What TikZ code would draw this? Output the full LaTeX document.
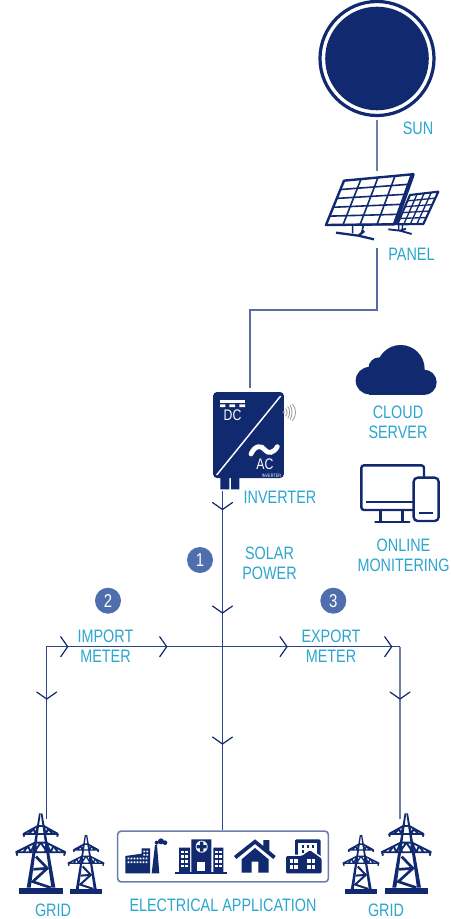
\documentclass[tikz,border=0pt]{standalone}
\usepackage{fontspec}
\setmainfont[FakeStretch=0.8]{Liberation Sans}
\usetikzlibrary{calc}
\definecolor{navy}{HTML}{10296F}
\definecolor{wirecol}{HTML}{2B4587}
\definecolor{softwire}{HTML}{6D7FA9}
\definecolor{badgecol}{HTML}{4E6EAD}
\definecolor{labelcol}{HTML}{2BA6CE}
\tikzset{
  wire/.style={line width=1pt,color=wirecol},
  softline/.style={line width=1.4pt,color=softwire},
  lab/.style={inner sep=0pt,text=labelcol,align=center,font=\fontsize{13.5}{15}\selectfont},
  badge/.style={circle,fill=badgecol,minimum size=19.5pt,inner sep=0pt,text=white,font=\fontsize{14}{15}\selectfont},
  zoomed/.style={scale=1/3},
  pics/chevd/.style={code={\draw[line width=.9pt,navy,line cap=round,line join=miter] (-10,-7)--(0,0)--(10,-7);}},
  pics/chevr/.style={code={\draw[line width=.9pt,navy,line cap=round,line join=miter] (-7,-10)--(0,0)--(-7,10);}},
  pics/tower/.style={code={
    \fill[navy] (-65,223) rectangle (66,243);
    \fill[navy] (-5,0)--(0,0)--(-30,223)--(-42,223)--cycle;
    \fill[navy] (0,0)--(5,0)--(44,223)--(32,223)--cycle;
    \draw[navy,line width=#1*.7,line join=round]
      (-52,62)--(52,62) (-52,62)--(-9,38)--(9,38)--(52,62)
      (-75,117)--(75,117) (-75,117)--(-17,88)--(17,88)--(75,117)
      (-36,62)--(-22,47)--(-15,62)--(-9,38) (36,62)--(22,47)--(15,62)--(9,38)
      (-52,117)--(-38,98)--(-30,117)--(-17,88)--(-13,117)
      (52,117)--(38,98)--(30,117)--(17,88)--(13,117)
      (-52,62)--(-49,70) (52,62)--(49,70) (-73,117)--(-70,127) (73,117)--(70,127)
      (-20,117)--(0,88)--(20,117);
    \draw[navy,line width=#1] (-14,130)--(20,165)--(-24,205)--(30,223) (-22,168)--(20,165);
  }}
}
\newcommand{\panelgrid}[8]{%
  % corners TL TR BR BL, columns, rows, frame width, grid width
  \fill[white] #1--#2--#3--#4--cycle;
  \foreach \c in {1,...,#5}{\pgfmathsetmacro{\tt}{\c/#5}
    \draw[navy,line width=#8] ($#1!\tt!#2$)--($#4!\tt!#3$);}
  \foreach \r in {1,...,#6}{\pgfmathsetmacro{\ss}{\r/#6}
    \draw[navy,line width=#8] ($#1!\ss!#4$)--($#2!\ss!#3$);}
  \draw[navy,line width=#7,line join=round] #1--#2--#3--#4--cycle;
}
\begin{document}
\begin{tikzpicture}[x=.75pt,y=-.75pt]
\path[use as bounding box,fill=white] (0,0) rectangle (450,919);

% SUN
\node[circle,draw=navy,line width=2.4pt,minimum size=85.5pt,inner sep=0pt] (sun) at (377,58.5) {};
\fill[navy] (sun.center) circle (51.8);
\node[lab] (sunlab) at (418,128) {SUN};

% PANEL
\begin{scope}[shift={(320,170)},zoomed]
  \panelgrid{(270,75)}{(355,65)}{(310,162)}{(232,163)}{4}{5}{1.6pt}{1pt}
  \draw[navy,line width=1pt] (236,165)--(236,180) (248,165)--(246,180);
  \draw[navy,line width=1.4pt] (205,178)--(240,182)--(275,192) (240,182)--(258,176);
  \panelgrid{(72,32)}{(276,13)}{(222,163)}{(18,165)}{4}{5}{1.8pt}{1.2pt}
  \draw[navy,line width=3pt,line cap=round] (278,14)--(226,160);
  \draw[navy,line width=1.2pt] (98,165)--(98,190) (130,165)--(125,190);
  \draw[navy,line width=1.7pt] (48,188)--(115,197)--(162,208) (115,197)--(133,183);
\end{scope}
\node[lab] (panellab) at (411.5,254) {PANEL};
\coordinate (panelin) at (377,171);
\coordinate (panelout) at (377,248);

% INVERTER
\node[fill=navy,rounded corners=3pt,minimum width=53.2pt,minimum height=64.5pt,inner sep=0pt] (inv) at (248.5,435) {};
\begin{scope}[shift={(190,370)},zoomed]
  \fill[navy] (91,320) rectangle (118,358) (123,320) rectangle (148,358);
  \draw[white,line width=1.1pt] (272,78)--(80,315);
  \fill[white] (90,91) rectangle (165,100);
  \fill[white] (90,103) rectangle (106,111) (118,103) rectangle (135,111) (148,103) rectangle (165,111);
  \draw[white,line width=3.6pt,line cap=round] (183,252) .. controls (195,225) and (215,225) .. (225,240) .. controls (235,252) and (250,250) .. (262,230);
  \fill[black!45] (281,127) circle (4);
  \draw[black!40,line width=.6pt] (287,115) .. controls (293,122) and (293,132) .. (287,139)
     (293,109) .. controls (301,119) and (301,135) .. (293,145)
     (300,105) .. controls (308,117) and (308,137) .. (300,149)
     (307,102) .. controls (320,115) and (320,139) .. (307,152);
\end{scope}
\node[inner sep=0pt,text=white,font=\fontsize{11.5}{12}\selectfont] (dc) at (232.5,415.5) {DC};
\node[inner sep=0pt,text=white,font=\fontsize{11.5}{12}\selectfont] (ac) at (265,464) {AC};
\node[inner sep=0pt,text=white,font=\fontsize{3.6}{4}\selectfont] (invtiny) at (271.5,475.5) {INVERTER};
\node[lab] (invlab) at (280,497) {INVERTER};
\coordinate (invout) at (222.5,491);
\coordinate (invin) at (250,388);

% CLOUD
\begin{scope}[shift={(340,330)},zoomed]
  \fill[navy] (88,152) circle (41) (118,115) circle (33) (182,117) circle (72) (252,157) circle (38);
  \fill[navy] (88,150) rectangle (252,195);
\end{scope}
\node[lab] (cloudlab) at (398,422.5) {CLOUD\\SERVER};

% MONITOR
\begin{scope}[shift={(340,330)},zoomed,navy,line width=1.8pt]
  \draw[rounded corners=2pt] (220,540)--(64,540)--(64,406)--(252,406)--(252,442);
  \draw (78,516)--(220,516);
  \draw (122,540)--(122,576) (188,540)--(188,576);
  \draw[line cap=round] (106,576)--(208,576);
  \draw[rounded corners=3pt,fill=white] (221,443) rectangle (296,573);
  \draw[line width=2.2pt] (236,549)--(280,549);
\end{scope}
\node[lab] (monlab) at (403.5,555) {ONLINE\\MONITERING};

% badges and labels
\node[badge] (b1) at (200,560) {1};
\node[badge] (b2) at (108,600.7) {2};
\node[badge] (b3) at (333.3,600.7) {3};
\node[lab] (solar) at (269.5,563) {SOLAR\\POWER};
\node[lab] (import) at (105.5,646.3) {IMPORT\\METER};
\node[lab] (export) at (331,646.3) {EXPORT\\METER};

% APPLICATION BOX
\node[draw=softwire,line width=1.2pt,rounded corners=2.5pt,minimum width=158pt,minimum height=38pt,inner sep=0pt] (app) at (223,856.5) {};
\begin{scope}[shift={(110,820)},zoomed]
  % factory
  \fill[navy] (46,108)--(95,101)--(95,85)--(120,85)--(120,160)--(46,160)--cycle;
  \fill[navy] (125,160)--(135,75)--(141,75)--(148,160)--cycle;
  \fill[navy] (140,68) circle (6) (153,64) circle (9) (165,68) circle (7);
  \foreach \x in {53,62,71,80,89,98,107}{\fill[white] (\x,113) rectangle +(5,5) (\x,124) rectangle +(5,5);}
  \foreach \y in {92,102}{\fill[white] (100,\y) rectangle +(5,5) (109,\y) rectangle +(5,5);}
  % hospital
  \fill[navy] (195,155) rectangle (350,163);
  \fill[navy] (207,83) rectangle (240,157) (310,83) rectangle (340,157) (244,58) rectangle (304,157);
  \fill[white] (275,80) circle (18);
  \fill[navy] (270,65) rectangle (280,95) (260,75) rectangle (290,85);
  \fill[white] (262,125) rectangle (285,152);
  \foreach \x in {214,226}{\foreach \y in {92,106,120,134}{\fill[white] (\x,\y) rectangle +(8,8);}}
  \foreach \x in {316,328}{\foreach \y in {92,106,120,134}{\fill[white] (\x,\y) rectangle +(8,8);}}
  % house
  \fill[navy] (372,108)--(435,58)--(460,78)--(460,60)--(478,60)--(478,92)--(497,108)--(490,117)--(435,72)--(379,117)--cycle;
  \fill[navy] (395,118)--(435,84)--(476,118)--(476,158)--(445,158)--(445,125)--(425,125)--(425,158)--(395,158)--cycle;
  % buildings
  \fill[navy,rounded corners=1pt] (555,58) rectangle (632,125);
  \fill[white] (565,70) rectangle (622,106);
  \foreach \x in {575,590,605}{\fill[navy] (\x,76) rectangle +(8,8);}
  \foreach \x in {575,590}{\fill[navy] (\x,90) rectangle +(8,8);}
  \fill[white] (522,104)--(575,104)--(600,85)--(640,114)--(640,160)--(522,160)--cycle;
  \fill[navy,rounded corners=1pt] (528,108)--(575,108)--(600,91)--(635,116)--(635,160)--(528,160)--cycle;
  \foreach \x in {540,553}{\foreach \y in {118,136}{\fill[white] (\x,\y) rectangle +(10,12);}}
  \foreach \x in {592,606}{\foreach \y in {118,136}{\fill[white] (\x,\y) rectangle +(10,12);}}
\end{scope}
\node[lab] (applab) at (223,905) {ELECTRICAL APPLICATION};

% GRID towers
\pic[zoomed] at (40.7,813.3) {tower=2pt};
\pic[scale=.725/3] at (86,835) {tower=1.5pt};
\pic[zoomed] at (406.3,813.3) {tower=2pt};
\pic[scale=.725/3] at (361,835) {tower=1.5pt};
\node[lab] (gridl) at (53,910.5) {GRID};
\node[lab] (gridr) at (386,910.5) {GRID};
\coordinate (gl) at (46.7,819);
\coordinate (gr) at (400,819);

% wires
\coordinate (bus) at (222.5,646.7);
\coordinate (busl) at (46.7,646.7);
\coordinate (busr) at (400,646.7);
\draw[softline] (sun.south |- 0,120) -- (panelin);
\draw[wire,color=softwire!70!wirecol] (panelout) -- (377,310) -- (250,310) -- (invin);
\draw[wire] (invout) -- (bus) -- (app.north -| bus);
\draw[wire] (gl) -- (busl) -- (bus) -- (busr);
\draw[softline] (busr) -- (gr);
\pic at (222.5,509.5) {chevd};
\pic at (222.5,613) {chevd};
\pic at (222.5,744) {chevd};
\pic at (46.7,699) {chevd};
\pic at (400,699) {chevd};
\pic at (67.7,646.7) {chevr};
\pic at (166.7,646.7) {chevr};
\pic at (287,646.7) {chevr};
\pic at (391.7,646.7) {chevr};
\end{tikzpicture}
\end{document}
